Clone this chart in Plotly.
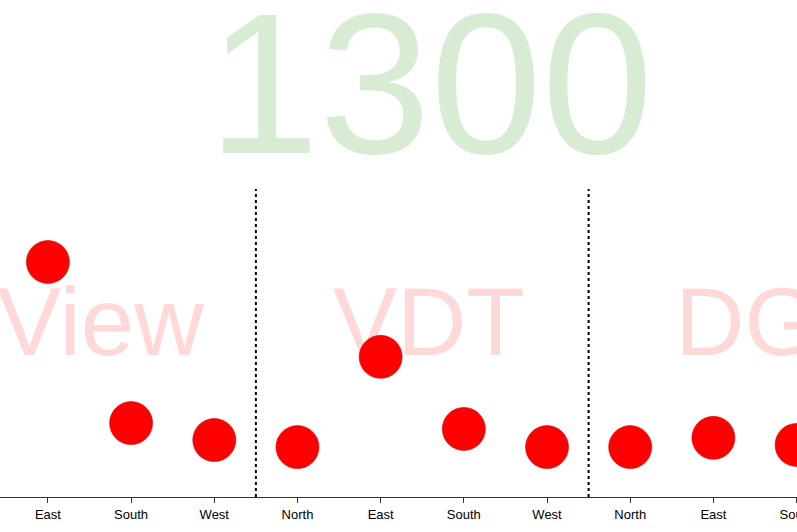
import plotly.graph_objects as go

# ---- data ----
group_names = ["View", "VDT", "DG"]
direction_order = ["North", "East", "South", "West"]

point_groups = ["View", "View", "View", "VDT", "VDT", "VDT", "VDT", "DG", "DG", "DG"]
point_directions = ["East", "South", "West", "North", "East", "South", "West", "North", "East", "South"]
point_values = [76.3, 24.0, 18.5, 16.2, 45.5, 22.1, 16.2, 16.2, 19.2, 16.9]

big_label = "1300"

# ---- derived positions ----
n_dir = len(direction_order)
x_pos = [group_names.index(g) * n_dir + direction_order.index(d)
         for g, d in zip(point_groups, point_directions)]
tick_vals = list(range(len(group_names) * n_dir))
tick_text = direction_order * len(group_names)

label_x = [1.63, 5.58, 8.54]
label_pos = ["middle center", "middle center", "middle right"]

fig = go.Figure()

# watermark group labels (drawn beneath the markers)
fig.add_trace(go.Scatter(
    x=label_x, y=[54.0] * len(group_names), mode="text", text=group_names,
    textposition=label_pos,
    textfont=dict(family="Liberation Sans, Arial, sans-serif", size=96, color="rgb(255,216,216)"),
    cliponaxis=False, hoverinfo="skip", showlegend=False,
))

fig.add_trace(go.Scatter(
    x=x_pos, y=point_values, mode="markers",
    marker=dict(size=43, color="#ff0000", line=dict(width=1, color="rgba(210,0,0,0.6)")),
    cliponaxis=False, hoverinfo="skip", showlegend=False,
))

# group dividers
for gi in range(1, len(group_names)):
    xd = gi * n_dir - 0.5
    fig.add_shape(type="line", xref="x", yref="paper", x0=xd, x1=xd, y0=0, y1=1,
                  line=dict(color="black", width=2, dash="dot"), layer="below")

fig.add_annotation(x=5.6, y=1.3425, xref="x", yref="paper", text=big_label,
                   showarrow=False, xanchor="center", yanchor="middle",
                   font=dict(family="Liberation Sans, Arial, sans-serif", size=200,
                             color="rgb(216,236,212)"))

fig.update_layout(
    width=797, height=532,
    margin=dict(l=0, r=0, t=189, b=35, autoexpand=False),
    paper_bgcolor="white", plot_bgcolor="white",
    font=dict(family="Liberation Sans, Arial, sans-serif", size=13, color="black"),
    xaxis=dict(range=[0.424, 10.005], tickmode="array", tickvals=tick_vals, ticktext=tick_text,
               showgrid=False, zeroline=False, showline=True, linecolor="#333", linewidth=1,
               ticks="outside", ticklen=5, tickcolor="#333", ticklabeloverflow="allow",
               automargin=False, tickfont=dict(size=13, color="black")),
    yaxis=dict(range=[0, 100], visible=False, showgrid=False, zeroline=False, automargin=False),
    showlegend=False,
)

fig.write_html("out.html", config={"displayModeBar": False},
               post_script="document.body.style.margin='0';document.body.style.overflow='hidden';")
